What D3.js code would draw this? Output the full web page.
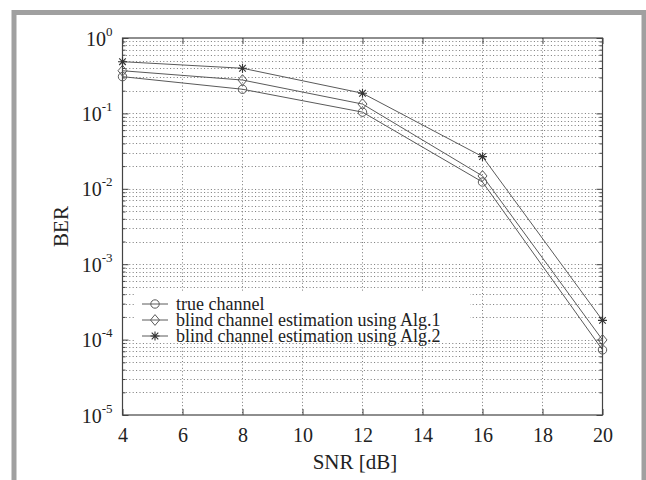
<!DOCTYPE html>
<html><head><meta charset="utf-8">
<script src="https://cdn.jsdelivr.net/npm/d3@7/dist/d3.min.js"></script>
<style>
html,body{margin:0;padding:0;background:#fff;}
svg{display:block;}
text{font-family:"Liberation Serif","Times New Roman",serif;fill:#222;}
</style></head>
<body>
<svg id="c" width="646" height="480"></svg>
<script>
const snr = [4, 8, 12, 16, 20];
const berTrue = [0.307, 0.209, 0.104, 0.0123, 7.3e-5];
const berAlg1 = [0.368, 0.277, 0.133, 0.0148, 9.9e-5];
const berAlg2 = [0.485, 0.397, 0.185, 0.0267, 1.8e-4];
const xTicks = [4, 6, 8, 10, 12, 14, 16, 18, 20];
const yTicks = [1, 1e-1, 1e-2, 1e-3, 1e-4, 1e-5];
const yExp = ["0", "-1", "-2", "-3", "-4", "-5"];
const legendLabels = ["true channel", "blind channel estimation using Alg.1", "blind channel estimation using Alg.2"];
const xLabel = "SNR [dB]";
const yLabel = "BER";

const svg = d3.select("#c");
const L = 122.5, R = 602.5, T = 38, B = 415;
const x = d3.scaleLinear().domain([4, 20]).range([L, R]);
const y = d3.scaleLog().domain([1e-5, 1]).range([B, T]);
const FONT = "Liberation Serif";

// frame
svg.append("rect").attr("x", 0).attr("y", 0).attr("width", 646).attr("height", 480).attr("fill", "#fff");
svg.append("path").attr("d", "M14,485 V12.5 H644 V485")
  .attr("fill", "none").attr("stroke", "#a0a0a0").attr("stroke-width", 5);

// minor y values
const minor = [];
for (let e = -5; e < 0; e++) for (let k = 2; k <= 9; k++) minor.push(k * Math.pow(10, e));

const gridCol = "#6a6a6a";
const g = svg.append("g");
g.selectAll("line.vx").data(xTicks.slice(1, -1)).join("line")
  .attr("x1", d => x(d)).attr("x2", d => x(d)).attr("y1", T).attr("y2", B)
  .attr("stroke", gridCol).attr("stroke-width", 0.9).attr("stroke-dasharray", "1,2.4");
g.selectAll("line.hy").data(yTicks.slice(1, -1).concat(minor)).join("line")
  .attr("x1", L).attr("x2", R).attr("y1", d => Math.round(y(d)) + 0.5).attr("y2", d => Math.round(y(d)) + 0.5)
  .attr("stroke", gridCol).attr("stroke-width", 0.9).attr("stroke-dasharray", "1,2.4");

// axes with ticks
const ax = svg.append("g");
const xb = ax.append("g").attr("transform", `translate(0,${B})`)
  .call(d3.axisBottom(x).tickValues(xTicks).tickSize(-6).tickPadding(13).tickFormat(d3.format("d")));
ax.append("g").attr("transform", `translate(0,${T})`)
  .call(d3.axisTop(x).tickValues(xTicks).tickSize(-6).tickFormat(""));
const yl = ax.append("g").attr("transform", `translate(${L},0)`)
  .call(d3.axisLeft(y).tickValues(yTicks).tickSize(-6).tickFormat(""));
ax.append("g").attr("transform", `translate(${R},0)`)
  .call(d3.axisRight(y).tickValues(yTicks).tickSize(-6).tickFormat(""));
ax.append("g").attr("transform", `translate(${L},0)`)
  .call(d3.axisLeft(y).tickValues(minor).tickSize(-3).tickFormat(""));
ax.append("g").attr("transform", `translate(${R},0)`)
  .call(d3.axisRight(y).tickValues(minor).tickSize(-3).tickFormat(""));
ax.selectAll(".domain").remove();
ax.selectAll(".tick line").attr("stroke", "#444").attr("stroke-width", 1);
xb.selectAll(".tick text").attr("font-size", 20).attr("font-family", FONT).attr("fill", "#222");

// y labels with superscripts
yl.selectAll(".tick").each(function(d) {
  const t = d3.select(this).select("text");
  t.text(null).attr("font-size", 20).attr("font-family", FONT).attr("fill", "#222")
    .attr("x", -10).attr("dy", null).attr("y", 7).attr("text-anchor", "end");
  t.append("tspan").text("10");
  t.append("tspan").attr("font-size", 13).attr("dy", -10).text(yExp[yTicks.indexOf(d)]);
});

// box
svg.append("rect").attr("x", L).attr("y", T).attr("width", R - L).attr("height", B - T)
  .attr("fill", "none").attr("stroke", "#444").attr("stroke-width", 1.2);

// series
const lineCol = "#5a5a5a";
const series = [
  {v: berTrue, m: "circle"},
  {v: berAlg1, m: "diamond"},
  {v: berAlg2, m: "star"}
];
const line = d3.line().x(d => x(d[0])).y(d => y(d[1]));
function marker(sel, type, cx, cy) {
  if (type === "circle") {
    sel.append("circle").attr("cx", cx).attr("cy", cy).attr("r", 4.2)
      .attr("fill", "none").attr("stroke", lineCol).attr("stroke-width", 1);
  } else if (type === "diamond") {
    const s = 4.5;
    sel.append("path").attr("d", `M${cx},${cy - s * 1.2}L${cx + s},${cy}L${cx},${cy + s * 1.2}L${cx - s},${cy}Z`)
      .attr("fill", "none").attr("stroke", lineCol).attr("stroke-width", 1);
  } else {
    const s = 4.5, q = 3.3;
    sel.append("path").attr("d",
      `M${cx - s},${cy}H${cx + s}M${cx},${cy - s}V${cy + s}M${cx - q},${cy - q}L${cx + q},${cy + q}M${cx - q},${cy + q}L${cx + q},${cy - q}`)
      .attr("fill", "none").attr("stroke", "#333").attr("stroke-width", 1.1);
  }
}
const sg = svg.append("g");
series.forEach(s => {
  const pts = snr.map((d, i) => [d, s.v[i]]);
  sg.append("path").attr("d", line(pts)).attr("fill", "none").attr("stroke", lineCol).attr("stroke-width", 1);
  pts.forEach(p => marker(sg, s.m, x(p[0]), y(p[1])));
});

// legend
const lg = svg.append("g");
const rowY = [304, 320, 336];
lg.append("rect").attr("x", 135).attr("y", 293).attr("width", 335).attr("height", 50).attr("fill", "#fff");
series.forEach((s, i) => {
  lg.append("line").attr("x1", 142).attr("x2", 168).attr("y1", rowY[i]).attr("y2", rowY[i])
    .attr("stroke", lineCol).attr("stroke-width", 1);
  marker(lg, s.m, 155, rowY[i]);
  lg.append("text").attr("x", 176).attr("y", rowY[i] + 5.5).attr("font-size", 18)
    .attr("font-family", FONT).text(legendLabels[i]);
});

// axis labels
svg.append("text").attr("x", 355).attr("y", 469).attr("text-anchor", "middle").attr("font-size", 21)
  .attr("font-family", FONT).text(xLabel);
svg.append("text").attr("transform", `translate(68,${(T + B) / 2}) rotate(-90)`).attr("text-anchor", "middle")
  .attr("font-size", 21).attr("font-family", FONT).text(yLabel);
</script>
</body></html>
